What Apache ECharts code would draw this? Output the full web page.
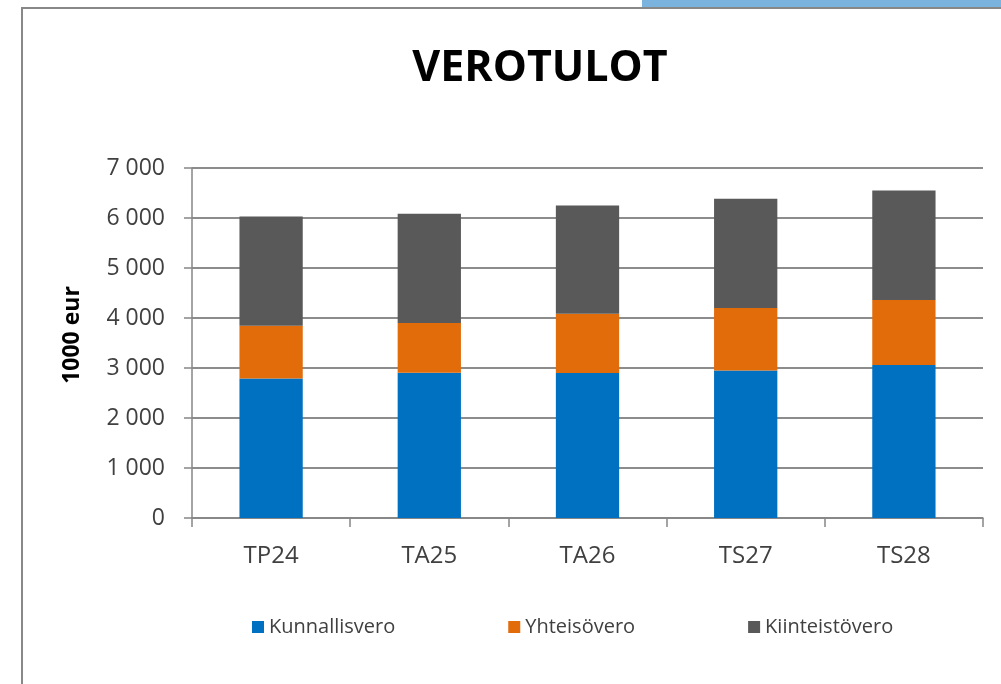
<!DOCTYPE html>
<html>
<head>
<meta charset="utf-8">
<script src="https://cdn.jsdelivr.net/npm/echarts@6/dist/echarts.min.js"></script>
<style>
html,body{margin:0;padding:0;background:#fff;}
#chart{width:1001px;height:684px;}
</style>
</head>
<body>
<div id="chart"></div>
<script>
var categories = ['TP24', 'TA25', 'TA26', 'TS27', 'TS28'];
var kunnallisvero = [2790, 2905, 2900, 2950, 3060];
var yhteisovero = [1055, 995, 1185, 1250, 1300];
var kiinteistovero = [2185, 2185, 2165, 2185, 2190];
var seriesNames = ['Kunnallisvero', 'Yhteisövero', 'Kiinteistövero'];
var yTicks = [0, 1000, 2000, 3000, 4000, 5000, 6000, 7000];

var FONT = '"Open Sans", "Liberation Sans", sans-serif';
var chart = echarts.init(document.getElementById('chart'), null, {renderer: 'canvas'});

function fmt(v) {
  var s = String(Math.round(v));
  return s.replace(/\B(?=(\d{3})+(?!\d))/g, ' ');
}

var option = {
  animation: false,
  backgroundColor: '#ffffff',
  color: ['#0070c0', '#e26b0a', '#595959'],
  title: {
    text: 'VEROTULOT',
    left: 535,
    textAlign: 'center',
    top: 42,
    textStyle: {fontFamily: FONT, fontWeight: 'bold', fontSize: 43, color: '#000000'}
  },
  grid: {left: 192, right: 18, top: 168, bottom: 166, containLabel: false},
  legend: {
    left: 247,
    top: 612,
    itemWidth: 12,
    itemHeight: 12,
    itemGap: 113,
    icon: 'rect',
    data: seriesNames,
    textStyle: {fontFamily: FONT, fontSize: 20, color: '#404040'}
  },
  xAxis: {
    type: 'category',
    data: categories,
    boundaryGap: true,
    axisLine: {show: true, lineStyle: {color: '#868686', width: 1.5}},
    axisTick: {show: true, length: 9, alignWithLabel: false, lineStyle: {color: '#868686', width: 1.5}},
    axisLabel: {fontFamily: FONT, fontSize: 24, color: '#404040', margin: 26}
  },
  yAxis: {
    type: 'value',
    min: yTicks[0],
    max: yTicks[yTicks.length - 1],
    interval: 1000,
    axisLine: {show: true, lineStyle: {color: '#868686', width: 1.5}},
    axisTick: {show: true, length: 8, lineStyle: {color: '#868686', width: 1.5}},
    splitLine: {show: true, lineStyle: {color: '#8c8c8c', width: 2}},
    axisLabel: {fontFamily: FONT, fontSize: 23, color: '#404040', margin: 27, formatter: fmt}
  },
  graphic: [
    {type: 'rect', shape: {x: 642, y: 0, width: 360, height: 7}, style: {fill: '#7ab3dd'}, z: 10},
    {type: 'rect', shape: {x: 22, y: 8, width: 1000, height: 700}, style: {fill: 'none', stroke: '#888888', lineWidth: 2}, z: 10, silent: true},
    {type: 'text', x: 72, y: 335, rotation: Math.PI / 2,
     style: {text: '1000 eur', fontFamily: FONT, fontWeight: 'bold', fontSize: 23, fill: '#000000', align: 'center', verticalAlign: 'middle'}}
  ],
  series: [
    {name: seriesNames[0], type: 'bar', stack: 'total', data: kunnallisvero, barWidth: '40%'},
    {name: seriesNames[1], type: 'bar', stack: 'total', data: yhteisovero, barWidth: '40%'},
    {name: seriesNames[2], type: 'bar', stack: 'total', data: kiinteistovero, barWidth: '40%'}
  ]
};
chart.setOption(option);
</script>
</body>
</html>
